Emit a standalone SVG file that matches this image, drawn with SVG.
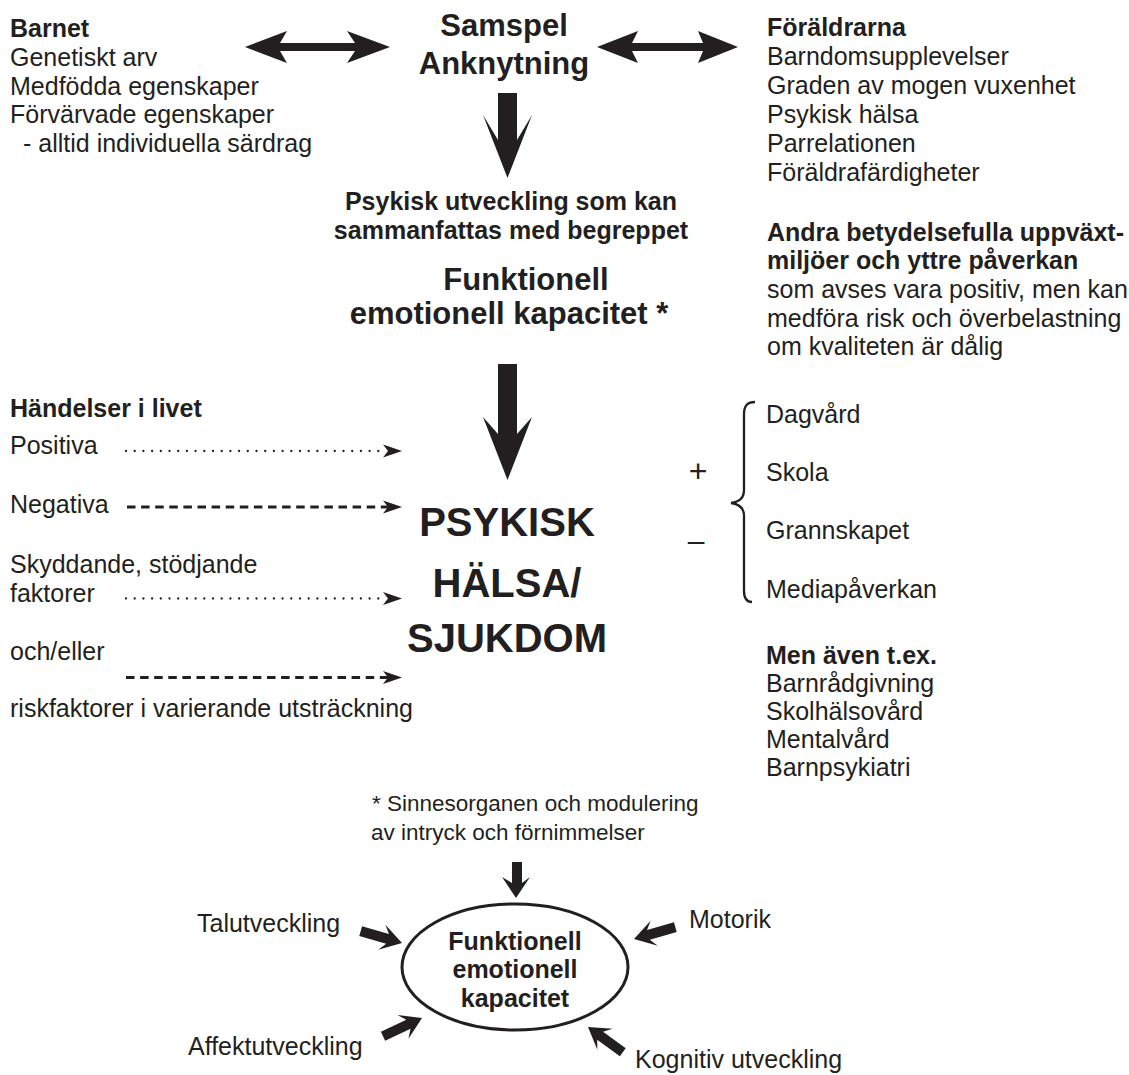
<svg xmlns="http://www.w3.org/2000/svg" xmlns:xlink="http://www.w3.org/1999/xlink" width="1129" height="1075" viewBox="0 0 1129 1075">
<style>
text{font-family:"Liberation Sans",Arial,sans-serif;fill:#231f20;font-size:25px}
.b{font-weight:bold}
.m{text-anchor:middle}
.big{font-size:31px;font-weight:bold}
.huge{font-size:40px;font-weight:bold;text-anchor:middle}
.sm{font-size:22.5px}
.solid{fill:#231f20}
.dot{fill:none;stroke:#231f20;stroke-width:2.3;stroke-linecap:round;stroke-dasharray:0 8.7}
.dash{fill:none;stroke:#231f20;stroke-width:3;stroke-dasharray:8.5 5.6}
.line{fill:none;stroke:#231f20;stroke-width:2.3}
</style>
<defs>
<path id="sa" d="M0,0 L-21,-13 L-15,-5 L-43,-5 L-43,5 L-15,5 L-21,13 Z"/>
<path id="ah" d="M0,0 L-19,-6.5 L-14,0 L-19,6.5 Z"/>
</defs>
<rect width="1129" height="1075" fill="#ffffff"/>

<g id="barnet">
<text x="10" y="37" class="b">Barnet</text>
<text x="10" y="66">Genetiskt arv</text>
<text x="10" y="95">Medfödda egenskaper</text>
<text x="10" y="123">Förvärvade egenskaper</text>
<text x="23" y="152">- alltid individuella särdrag</text>
</g>

<g id="samspel">
<text x="504" y="36" class="big m">Samspel</text>
<text x="504" y="74" class="big m">Anknytning</text>
</g>

<g id="foraldrarna">
<text x="767" y="36" class="b">Föräldrarna</text>
<text x="767" y="65">Barndomsupplevelser</text>
<text x="767" y="94">Graden av mogen vuxenhet</text>
<text x="767" y="123">Psykisk hälsa</text>
<text x="767" y="152">Parrelationen</text>
<text x="767" y="181">Föräldrafärdigheter</text>
</g>

<g id="utveckling">
<text x="511" y="210" class="b m">Psykisk utveckling som kan</text>
<text x="511" y="239" class="b m">sammanfattas med begreppet</text>
<text x="526" y="290" class="big m">Funktionell</text>
<text x="509" y="324" class="big m">emotionell kapacitet *</text>
</g>

<g id="andra">
<text x="767" y="241" class="b">Andra betydelsefulla uppväxt-</text>
<text x="767" y="269" class="b">miljöer och yttre påverkan</text>
<text x="767" y="298">som avses vara positiv, men kan</text>
<text x="767" y="327">medföra risk och överbelastning</text>
<text x="767" y="355">om kvaliteten är dålig</text>
</g>

<g id="handelser">
<text x="10" y="417" class="b">Händelser i livet</text>
<text x="10" y="454">Positiva</text>
<text x="10" y="513">Negativa</text>
<text x="10" y="573">Skyddande, stödjande</text>
<text x="10" y="602">faktorer</text>
<text x="10" y="660">och/eller</text>
<text x="10" y="717">riskfaktorer i varierande utsträckning</text>
</g>

<g id="psykisk-halsa">
<text x="507" y="536" class="huge">PSYKISK</text>
<text x="507" y="597" class="huge">HÄLSA/</text>
<text x="507" y="652" class="huge">SJUKDOM</text>
</g>

<g id="miljoer">
<text x="698" y="482" class="m" style="font-size:32px">+</text>
<text x="696" y="551" class="m" style="font-size:30px">–</text>
<path class="line" d="M755,402 C748,402 744,405 744,414 L744,490 C744,498 739,502 731,503 C739,504 744,508 744,516 L744,591 C744,598 747,602 752,602"/>
<text x="766" y="423">Dagvård</text>
<text x="766" y="481">Skola</text>
<text x="766" y="539">Grannskapet</text>
<text x="766" y="598">Mediapåverkan</text>
</g>

<g id="men-aven">
<text x="766" y="664" class="b">Men även t.ex.</text>
<text x="766" y="692">Barnrådgivning</text>
<text x="766" y="720">Skolhälsovård</text>
<text x="766" y="748">Mentalvård</text>
<text x="766" y="776">Barnpsykiatri</text>
</g>

<g id="sinnesorganen">
<text x="372" y="811" class="sm">* Sinnesorganen och modulering</text>
<text x="371" y="840" class="sm">av intryck och förnimmelser</text>
</g>

<g id="kapacitet">
<ellipse cx="515" cy="967" rx="113" ry="63" fill="none" stroke="#231f20" stroke-width="3"/>
<text x="515" y="950" class="b m">Funktionell</text>
<text x="515" y="978" class="b m">emotionell</text>
<text x="515" y="1007" class="b m">kapacitet</text>
</g>

<g id="faktorer">
<text x="197" y="932">Talutveckling</text>
<text x="689" y="928">Motorik</text>
<text x="188" y="1055">Affektutveckling</text>
<text x="635" y="1068">Kognitiv utveckling</text>
</g>

<g id="connectors">
<path class="solid" d="M245,47 L287,31 L280,43 L355,43 L347,31 L390,47 L347,63 L355,51 L280,51 L287,63 Z"/>
<path class="solid" d="M597,47 L638,31 L632,43 L703,43 L698,31 L738,47 L698,63 L703,51 L632,51 L638,63 Z"/>
<path class="solid" d="M498,93 L517,93 L517,140 L532,115 L507.5,178 L483,115 L498,140 Z"/>
<path class="solid" d="M498,364 L517,364 L517,434 L532,417 L507.5,480 L483,417 L498,434 Z"/>

<line class="dot" x1="126" y1="451" x2="385" y2="451"/>
<use xlink:href="#ah" href="#ah" class="solid" transform="translate(402,451)"/>
<line class="dash" x1="127" y1="507" x2="388" y2="507"/>
<use xlink:href="#ah" href="#ah" class="solid" transform="translate(402,507)"/>
<line class="dot" x1="126" y1="598.5" x2="385" y2="598.5"/>
<use xlink:href="#ah" href="#ah" class="solid" transform="translate(402,598.5)"/>
<line class="dash" x1="126" y1="677.5" x2="388" y2="677.5"/>
<use xlink:href="#ah" href="#ah" class="solid" transform="translate(402,677.5)"/>

<path class="solid" d="M512,862 L522,862 L522,883 L530,877 L516,898 L502,877 L512,883 Z"/>
<use xlink:href="#sa" href="#sa" class="solid" transform="translate(402,943) rotate(16)"/>
<use xlink:href="#sa" href="#sa" class="solid" transform="translate(422,1018) rotate(-25)"/>
<use xlink:href="#sa" href="#sa" class="solid" transform="translate(634,939) rotate(164)"/>
<use xlink:href="#sa" href="#sa" class="solid" transform="translate(588,1027) rotate(-144)"/>
</g>
</svg>
